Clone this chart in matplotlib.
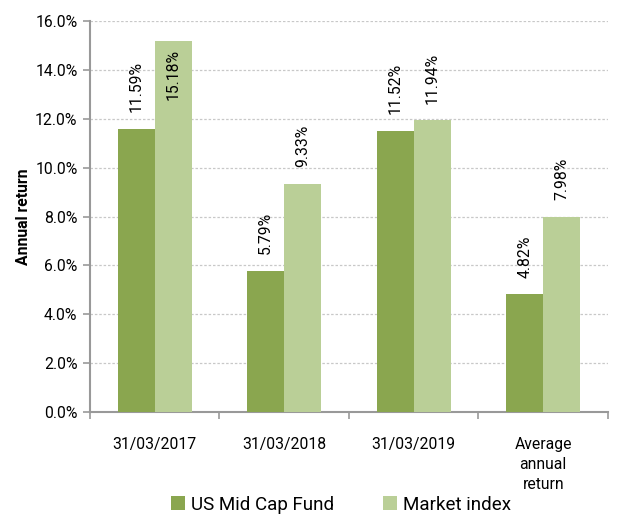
import matplotlib
matplotlib.use("Agg")
import matplotlib.pyplot as plt
import numpy as np

plt.rcParams['font.family'] = ['Roboto', 'DejaVu Sans']

categories = ["31/03/2017", "31/03/2018", "31/03/2019", "Average\nannual\nreturn"]
fund = [11.59, 5.79, 11.52, 4.82]
index = [15.18, 9.33, 11.94, 7.98]
series_names = ["US Mid Cap Fund", "Market index"]
yticks = [0, 2, 4, 6, 8, 10, 12, 14, 16]

c_dark = "#8aa64f"
c_light = "#bacf97"

fig = plt.figure(figsize=(6.28, 5.15), dpi=100)
ax = fig.add_axes([0.1433, 0.2, 0.8248, 0.759])

x = np.arange(len(categories))
w = 0.285
b1 = ax.bar(x - w/2, fund, w, color=c_dark, label=series_names[0], zorder=3)
b2 = ax.bar(x + w/2, index, w, color=c_light, label=series_names[1], zorder=3)

for bars, vals in ((b1, fund), (b2, index)):
    for r, v in zip(bars, vals):
        cx = r.get_x() + r.get_width()/2
        if v > 14:
            ax.annotate(f"{v:.2f}%", (cx, v), xytext=(0, -6), textcoords="offset points",
                        rotation=90, ha="center", va="top", fontsize=11.3, zorder=4)
        else:
            ax.annotate(f"{v:.2f}%", (cx, v), xytext=(0, 12), textcoords="offset points",
                        rotation=90, ha="center", va="bottom", fontsize=11.3, zorder=4)

ax.set_xlim(-0.5, len(categories) - 0.5)
ax.set_ylim(0, 16)
ax.set_yticks(yticks)
ax.set_yticklabels([f"{t:.1f}%" for t in yticks], fontsize=11.3)
ax.set_xticks(np.arange(-0.5, len(categories), 1))
ax.set_xticklabels([])
ax.set_xticks(x, minor=True)
ax.set_xticklabels(categories, minor=True, fontsize=11.3, linespacing=1.4)
ax.tick_params(axis='x', which='minor', length=0, pad=18)
ax.tick_params(axis='x', which='major', length=5, color="#999999", width=1.2)
ax.tick_params(axis='y', length=5, color="#999999", width=1.2, pad=4)

ax.grid(axis='y', linestyle=(0, (2, 1.5)), color="#c8c8c8", linewidth=0.9, zorder=0)
for s in ("top", "right"):
    ax.spines[s].set_visible(False)
for s in ("left", "bottom"):
    ax.spines[s].set_color("#999999")
    ax.spines[s].set_linewidth(1.5)

ax.set_ylabel("Annual return", fontsize=11.3, fontweight="bold", labelpad=3)

fig.legend(handles=[b1, b2], labels=series_names, loc="center", bbox_to_anchor=(0.543, 0.02),
           ncol=2, frameon=False, fontsize=13.5, handlelength=0.75, handleheight=0.75,
           handletextpad=0.3, columnspacing=2.65, borderpad=0.1)

fig.savefig("out.png", dpi=100)
